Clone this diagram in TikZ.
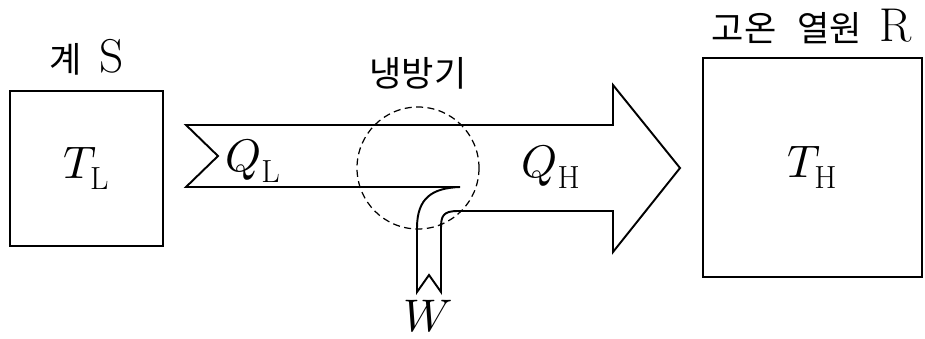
\documentclass[tikz,border=0pt]{standalone}
\usepackage{fontspec}
\usepackage{unicode-math}
\setmathfont{Latin Modern Math}
\newfontfamily\kor{Noto Sans CJK KR}
\usetikzlibrary{positioning}

\newcommand{\bigletter}[1]{{\fontsize{27}{30}\selectfont #1}}

\tikzset{
  box/.style={draw, line width=1.1pt, inner sep=0pt},
  band/.style={draw, line width=1.1pt, line join=miter},
  lbl/.style={font=\fontsize{20}{24}\selectfont},
  sym/.style={font=\fontsize{26}{30}\selectfont},
}

\begin{document}
\begin{tikzpicture}[x=0.02cm, y=-0.02cm]
  \useasboundingbox (0,0) rectangle (925,338);
  % system and hot reservoir
  \node[box, sym, minimum width=3.06cm, minimum height=3.1cm] (sys) at (86.5,168.5) {$T_{\mathrm{L}}$};
  \node[box, sym, minimum width=4.38cm, minimum height=4.38cm] (res) at (812.5,167.5) {$T_{\mathrm{H}}$};
  \node[lbl] (syslbl) at (87,57) {{\kor 계}\hspace{0.5em}\bigletter{S}};
  \node[lbl] (reslbl) at (812,26) {{\kor 고온\hspace{0.6em}열원}\hspace{0.5em}\bigletter{R}};

  % heat flow band
  \draw[band] (460,187) -- (186,187) -- (218,156) -- (186,125) -- (613,125)
    -- (613,85) -- (680,168) -- (613,252) -- (613,211) -- (458,211)
    .. controls (443,211) and (441,216) .. (441,228) -- (441,292)
    -- (429,275) -- (417,292) -- (417,228)
    .. controls (417,198) and (432,188) .. (460,187);

  % refrigerator
  \draw[line width=0.7pt, dash pattern=on 4pt off 2.5pt] (418,168) circle[radius=61];
  \node[lbl] (fridge) at (418,73) {\kor 냉방기};

  \node[sym] (ql) at (253,161) {$Q_{\mathrm{L}}$};
  \node[sym] (qh) at (551,167) {$Q_{\mathrm{H}}$};
  \node[sym] (w) at (428,316) {$W$};
\end{tikzpicture}
\end{document}
